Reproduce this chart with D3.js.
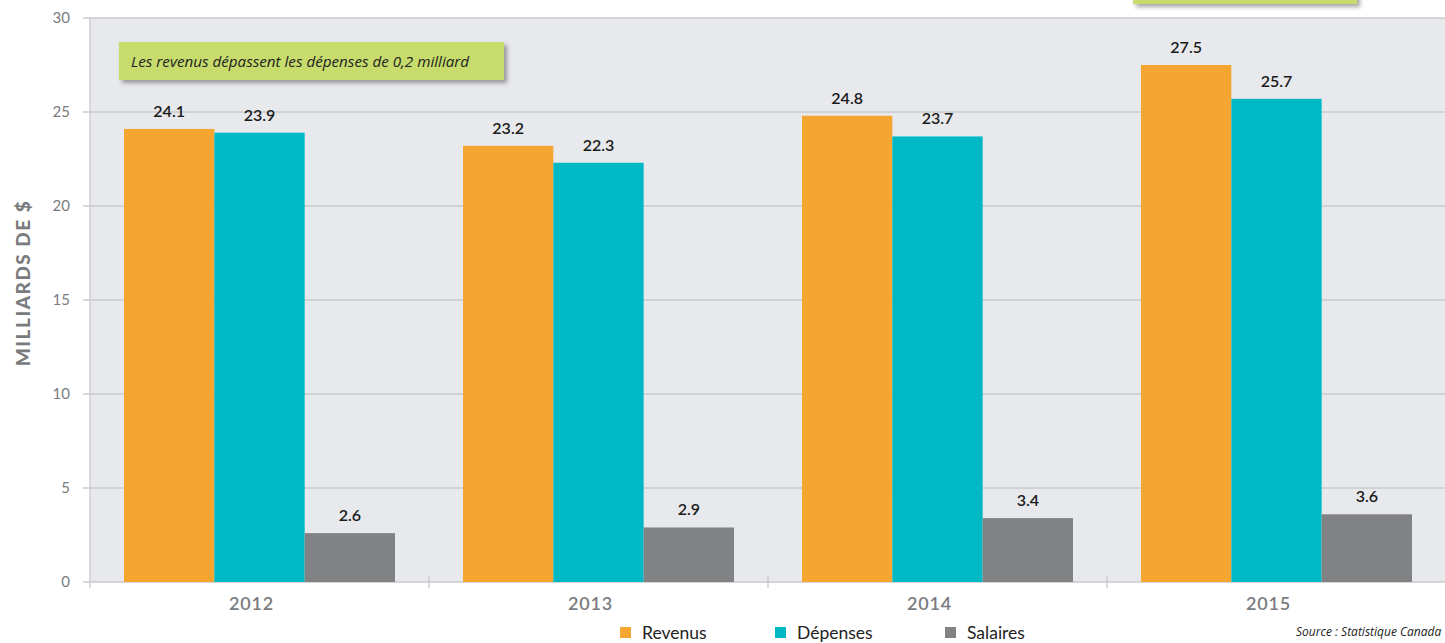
<!DOCTYPE html>
<html>
<head>
<meta charset="utf-8">
<script src="https://cdn.jsdelivr.net/npm/d3@7"></script>
<style>
  body { margin: 0; background: #fff; }
  svg { display: block; font-family: Lato, "Open Sans", sans-serif; }
</style>
</head>
<body>
<svg id="chart" width="1445" height="643"></svg>
<script>
// Revenus, dépenses et salaires, 2012-2015 (milliards de $)

const years = ["2012", "2013", "2014", "2015"];
const seriesNames = ["Revenus", "Dépenses", "Salaires"];
const revenus = [24.1, 23.2, 24.8, 27.5];
const depenses = [23.9, 22.3, 23.7, 25.7];
const salaires = [2.6, 2.9, 3.4, 3.6];
const yTicks = [0, 5, 10, 15, 20, 25, 30];
const seriesColors = ["#f5a631", "#00b9c4", "#818284"];

function drawChart() {
  const svg = d3.select("#chart");

  const margin = { top: 18, right: -1, bottom: 61, left: 90 };
  const width = 1445 - margin.left - margin.right;
  const height = 643 - margin.top - margin.bottom;

  const defs = svg.append("defs");
  const shadow = defs.append("filter")
    .attr("id", "shadow")
    .attr("x", "-5%").attr("y", "-20%")
    .attr("width", "115%").attr("height", "160%");
  shadow.append("feDropShadow")
    .attr("dx", 3).attr("dy", 3)
    .attr("stdDeviation", 2)
    .attr("flood-color", "#000")
    .attr("flood-opacity", 0.35);

  const g = svg.append("g")
    .attr("transform", `translate(${margin.left},${margin.top})`);

  const x0 = d3.scaleBand()
    .domain(years)
    .range([0, width])
    .padding(0);

  const x1 = d3.scaleBand()
    .domain(seriesNames)
    .range([34, x0.bandwidth() - 34])
    .padding(0);

  const y = d3.scaleLinear()
    .domain([0, 30])
    .range([height, 0]);

  const color = d3.scaleOrdinal()
    .domain(seriesNames)
    .range(seriesColors);

  // plot background
  g.append("rect")
    .attr("x", 0)
    .attr("y", 0)
    .attr("width", width)
    .attr("height", height)
    .attr("fill", "#e8e9ec");

  // gridlines
  g.selectAll(".grid")
    .data(yTicks)
    .join("line")
    .attr("x1", -7)
    .attr("x2", width)
    .attr("y1", d => y(d))
    .attr("y2", d => y(d))
    .attr("stroke", "#c9cacd")
    .attr("stroke-width", 1.3);

  // y axis line
  g.append("line")
    .attr("x1", 0).attr("x2", 0)
    .attr("y1", 0).attr("y2", height + 6)
    .attr("stroke", "#c9cacd")
    .attr("stroke-width", 1.3);

  // category tick marks
  g.selectAll(".xtick")
    .data(years.slice(1))
    .join("line")
    .attr("x1", d => x0(d))
    .attr("x2", d => x0(d))
    .attr("y1", height - 6)
    .attr("y2", height + 6)
    .attr("stroke", "#c9cacd")
    .attr("stroke-width", 1.3);

  // y tick labels
  g.selectAll(".ylabel")
    .data(yTicks)
    .join("text")
    .attr("x", -20)
    .attr("y", d => y(d))
    .attr("dy", "0.35em")
    .attr("text-anchor", "end")
    .attr("fill", "#7a7b7e")
    .attr("font-size", 15)
    .text(d => d);

  // y axis title
  svg.append("text")
    .attr("transform", `translate(30,${margin.top + height / 2 - 17}) rotate(-90)`)
    .attr("text-anchor", "middle")
    .attr("fill", "#7a7b7e")
    .attr("font-size", 19)
    .attr("font-weight", "900")
    .attr("letter-spacing", 1.5)
    .text("MILLIARDS DE $");

  const rows = years.map((yr, i) => ({
    year: yr,
    values: [
      { name: "Revenus", value: revenus[i] },
      { name: "Dépenses", value: depenses[i] },
      { name: "Salaires", value: salaires[i] }
    ]
  }));

  const groups = g.selectAll(".group")
    .data(rows)
    .join("g")
    .attr("transform", d => `translate(${x0(d.year)},0)`);

  groups.selectAll("rect")
    .data(d => d.values)
    .join("rect")
    .attr("x", d => x1(d.name))
    .attr("y", d => y(d.value))
    .attr("width", x1.bandwidth())
    .attr("height", d => height - y(d.value))
    .attr("fill", d => color(d.name));

  groups.selectAll(".val")
    .data(d => d.values)
    .join("text")
    .attr("x", d => x1(d.name) + x1.bandwidth() / 2)
    .attr("y", d => y(d.value) - 12)
    .attr("text-anchor", "middle")
    .attr("fill", "#1a1a1a")
    .attr("font-size", 16)
    .attr("font-weight", "600")
    .text(d => d.value.toFixed(1));

  // year labels
  g.selectAll(".year")
    .data(years)
    .join("text")
    .attr("x", d => x0(d) + x0.bandwidth() / 2 - 8)
    .attr("y", height + 28)
    .attr("text-anchor", "middle")
    .attr("fill", "#7a7b7e")
    .attr("font-size", 18)
    .attr("font-weight", "600")
    .attr("letter-spacing", 0.8)
    .text(d => d);

  // annotation box
  const note = svg.append("g");
  note.append("rect")
    .attr("x", 119).attr("y", 42)
    .attr("width", 385).attr("height", 38)
    .attr("fill", "#c7dc6c")
    .attr("filter", "url(#shadow)");
  note.append("text")
    .attr("x", 131).attr("y", 67)
    .attr("fill", "#222")
    .attr("font-family", "'Open Sans', sans-serif")
    .attr("font-style", "italic")
    .attr("font-size", 15.2)
    .text("Les revenus dépassent les dépenses de 0,2 milliard");

  // top-right box, cut off by the frame
  svg.append("rect")
    .attr("x", 1133).attr("y", -20)
    .attr("width", 224).attr("height", 24)
    .attr("fill", "#c7dc6c")
    .attr("filter", "url(#shadow)");

  // legend
  const legendX = [620, 775, 945];
  const legend = svg.selectAll(".legend")
    .data(seriesNames)
    .join("g")
    .attr("transform", (d, i) => `translate(${legendX[i]},627)`);
  legend.append("rect")
    .attr("width", 11).attr("height", 11)
    .attr("fill", d => color(d));
  legend.append("text")
    .attr("x", 22).attr("y", 12)
    .attr("fill", "#222")
    .attr("font-size", 17.5)
    .text(d => d);

  svg.append("text")
    .attr("x", 1296).attr("y", 636)
    .attr("fill", "#222")
    .attr("font-family", "'Open Sans', sans-serif")
    .attr("font-style", "italic")
    .attr("font-size", 12)
    .text("Source : Statistique Canada");
}

drawChart();
</script>
</body>
</html>
